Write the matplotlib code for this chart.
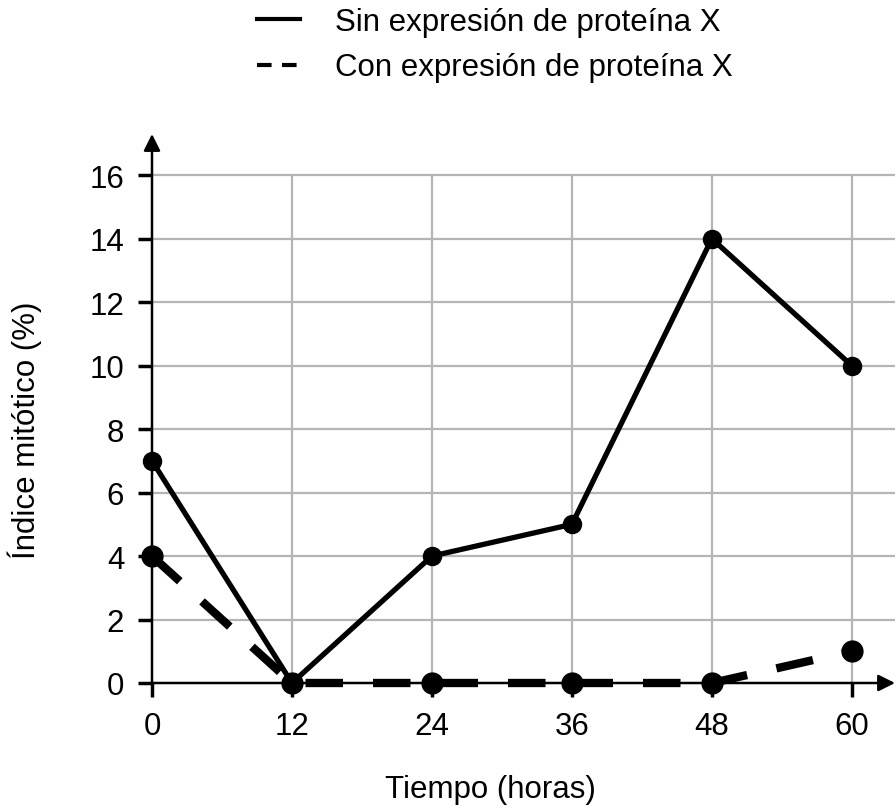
import matplotlib
matplotlib.use('Agg')
import matplotlib.pyplot as plt
from matplotlib.lines import Line2D

# Data
horas = [0, 12, 24, 36, 48, 60]
sin_proteina = [7, 0, 4, 5, 14, 10]
con_proteina = [4, 0, 0, 0, 0, 1]
x_ticks = [0, 12, 24, 36, 48, 60]
y_ticks = [0, 2, 4, 6, 8, 10, 12, 14, 16]
label_sin = 'Sin expresión de proteína X'
label_con = 'Con expresión de proteína X'

plt.rcParams['font.family'] = ['Liberation Sans', 'DejaVu Sans']

fig = plt.figure(figsize=(8.96, 8.12), dpi=100)
ax = fig.add_axes([152 / 896, 128 / 812, 743 / 896, 549 / 812])
xmax, ymax = 63.7, 17.3
ax.set_xlim(0, xmax)
ax.set_ylim(0, ymax)
for s in ax.spines.values():
    s.set_visible(False)

# grid
ax.hlines(y_ticks[1:], 0, xmax, color='#b5b5b5', lw=1.6, zorder=1, clip_on=False)
ax.vlines(x_ticks[1:], 0, 16, color='#b5b5b5', lw=1.6, zorder=1)

# axes with arrows
ax.annotate('', xy=(0, ymax), xytext=(0, 0), xycoords='data',
            arrowprops=dict(arrowstyle='-|>', color='black', lw=1.8,
                            mutation_scale=25, shrinkA=0, shrinkB=0),
            annotation_clip=False, zorder=3)
ax.annotate('', xy=(xmax, 0), xytext=(0, 0), xycoords='data',
            arrowprops=dict(arrowstyle='-|>', color='black', lw=1.8,
                            mutation_scale=25, shrinkA=0, shrinkB=0),
            annotation_clip=False, zorder=3)

ax.set_xticks(x_ticks)
ax.set_yticks(y_ticks)
ax.tick_params(axis='both', length=10, width=2.5, color='black',
               labelsize=22.5, direction='out')
ax.tick_params(axis='x', pad=10)
ax.tick_params(axis='y', pad=10)

ax.plot(horas, sin_proteina, color='black', lw=3.8, marker='o', ms=13,
        zorder=4, clip_on=False, solid_capstyle='round')
ax.plot(horas, con_proteina, color='black', lw=6, marker='o', ms=15,
        dashes=(4.5, 3.6), zorder=5, clip_on=False)

fig.text(25 / 896, 1 - 430 / 812, 'Índice mitótico (%)', rotation=90,
         ha='center', va='center', fontsize=22.5)
fig.text(490 / 896, 1 - 790 / 812, 'Tiempo (horas)', ha='center',
         va='center', fontsize=22.5)

handles = [Line2D([], [], color='black', lw=3),
           Line2D([], [], color='black', lw=3, dashes=(3.5, 2.5))]
fig.legend(handles, [label_sin, label_con], loc='upper center',
           bbox_to_anchor=(0.552, 1.025), frameon=False, fontsize=22.5,
           handlelength=1.4, labelspacing=0.5, handletextpad=1.1)

fig.savefig('out.png', dpi=100)
